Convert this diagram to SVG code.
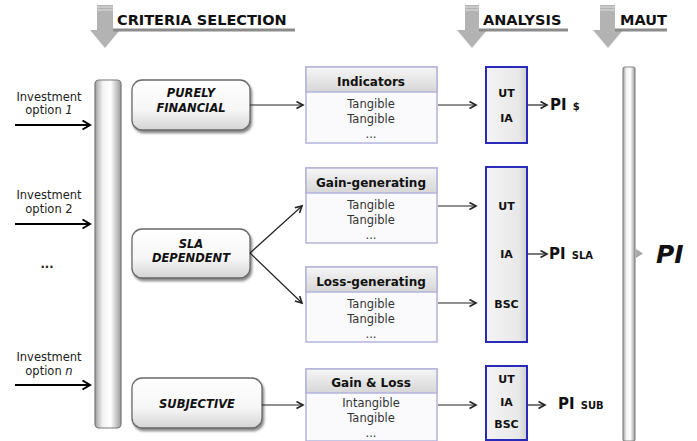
<svg xmlns="http://www.w3.org/2000/svg" width="697" height="441" viewBox="0 0 697 441">
<defs>
<style>
text{font-family:"DejaVu Sans",Verdana,sans-serif;fill:#111}
.hdr{font-size:14.5px;font-weight:bold}
.inv{font-size:11.5px;fill:#222}
.cat{font-size:11.5px;font-weight:bold;font-style:italic}
.bh{font-size:12px;font-weight:bold}
.bt{font-size:11.5px;fill:#333}
.an{font-size:11px;font-weight:bold}
.pi{font-size:15px;font-weight:bold}
.sub{font-size:10px;font-weight:bold}
.conn line{stroke:#222;stroke-width:1.2;marker-end:url(#chev)}
.conn line.thick{stroke:#000;stroke-width:2;marker-end:url(#chevB)}
.rbox{fill:url(#gBox);stroke:#6a6a6a;stroke-width:1.3;filter:url(#sh)}
.ibox{fill:#fafafd;stroke:#b4b4dc;stroke-width:1.5}
.ihead{fill:url(#gHead);stroke:#b4b4dc;stroke-width:1.5}
.abox{fill:url(#gAn);stroke:#2a2ab8;stroke-width:2}
.hArrow{fill:#b3b3b3}
</style>
<linearGradient id="gBox" x1="0" y1="0" x2="0" y2="1">
<stop offset="0" stop-color="#ffffff"/><stop offset="0.6" stop-color="#f6f6f6"/><stop offset="1" stop-color="#d4d4d4"/>
</linearGradient>
<linearGradient id="gBar" x1="0" y1="0" x2="1" y2="0">
<stop offset="0" stop-color="#a0a0a0"/><stop offset="0.3" stop-color="#f4f4f4"/><stop offset="0.6" stop-color="#ffffff"/><stop offset="1" stop-color="#9a9a9a"/>
</linearGradient>
<linearGradient id="gHead" x1="0" y1="0" x2="0" y2="1">
<stop offset="0" stop-color="#f6f6f6"/><stop offset="1" stop-color="#d6d6d6"/>
</linearGradient>
<linearGradient id="gAn" x1="0" y1="0" x2="1" y2="0">
<stop offset="0" stop-color="#f4f4f4"/><stop offset="0.8" stop-color="#e8e8e8"/><stop offset="1" stop-color="#cfcfcf"/>
</linearGradient>
<filter id="sh" x="-10%" y="-10%" width="130%" height="140%">
<feDropShadow dx="1.5" dy="2.5" stdDeviation="1.2" flood-color="#555" flood-opacity="0.7"/>
</filter>
<marker id="chev" markerUnits="userSpaceOnUse" markerWidth="10" markerHeight="10" refX="7" refY="4" orient="auto">
<path d="M0.5,0.5 L7,4 L0.5,7.5" fill="none" stroke="#222" stroke-width="1.6"/>
</marker>
<marker id="chevB" markerUnits="userSpaceOnUse" markerWidth="12" markerHeight="12" refX="8" refY="5" orient="auto">
<path d="M0.5,0.5 L8,5 L0.5,9.5" fill="none" stroke="#000" stroke-width="2"/>
</marker>
</defs>
<rect width="697" height="441" fill="#ffffff"/>

<!-- Stage headers -->
<g id="hdr-criteria">
<rect x="97" y="5" width="16" height="26" class="hArrow"/>
<line x1="97" y1="7" x2="113" y2="7" stroke="#e0e0e0" stroke-width="1"/>
<line x1="97" y1="10" x2="113" y2="10" stroke="#e0e0e0" stroke-width="1"/>
<polygon points="90,30 120,30 105,48" class="hArrow"/>
<line x1="113" y1="30" x2="295" y2="30" stroke="#8c8c8c" stroke-width="3"/>
<text x="117" y="25" class="hdr">CRITERIA SELECTION</text>
</g>
<g id="hdr-analysis">
<rect x="465" y="5" width="14" height="26" class="hArrow"/>
<line x1="465" y1="7" x2="479" y2="7" stroke="#e0e0e0" stroke-width="1"/>
<line x1="465" y1="10" x2="479" y2="10" stroke="#e0e0e0" stroke-width="1"/>
<polygon points="457,30 487,30 472,48" class="hArrow"/>
<line x1="479" y1="30" x2="568" y2="30" stroke="#8c8c8c" stroke-width="3"/>
<text x="483" y="25" class="hdr">ANALYSIS</text>
</g>
<g id="hdr-maut">
<rect x="600" y="5" width="15" height="26" class="hArrow"/>
<line x1="600" y1="7" x2="615" y2="7" stroke="#e0e0e0" stroke-width="1"/>
<line x1="600" y1="10" x2="615" y2="10" stroke="#e0e0e0" stroke-width="1"/>
<polygon points="593,30 623,30 608,48" class="hArrow"/>
<line x1="615" y1="30" x2="667" y2="30" stroke="#8c8c8c" stroke-width="3"/>
<text x="620" y="25" class="hdr">MAUT</text>
</g>

<!-- Investment option labels -->
<g id="inv1">
<text x="49" y="101" class="inv" text-anchor="middle">Investment</text>
<text x="49" y="114" class="inv" text-anchor="middle">option <tspan font-style="italic">1</tspan></text>
</g>
<g id="inv2">
<text x="49" y="199" class="inv" text-anchor="middle">Investment</text>
<text x="49" y="213" class="inv" text-anchor="middle">option 2</text>
</g>
<g id="invdots">
<text x="47" y="268" class="inv" font-weight="bold" text-anchor="middle">...</text>
</g>
<g id="invn">
<text x="49" y="361" class="inv" text-anchor="middle">Investment</text>
<text x="49" y="375" class="inv" text-anchor="middle">option <tspan font-style="italic">n</tspan></text>
</g>

<!-- Left collector bar -->
<g id="leftbar">
<rect x="95" y="80" width="26" height="348" rx="4" fill="url(#gBar)" stroke="#777" stroke-width="1.2"/>
</g>

<!-- Category boxes -->
<g id="cat-financial">
<rect x="132" y="80" width="118" height="50" rx="10" class="rbox"/>
<text x="191" y="97" class="cat" text-anchor="middle">PURELY</text>
<text x="191" y="112" class="cat" text-anchor="middle">FINANCIAL</text>
</g>
<g id="cat-sla">
<rect x="132" y="229" width="118" height="49" rx="10" class="rbox"/>
<text x="191" y="248" class="cat" text-anchor="middle">SLA</text>
<text x="191" y="262" class="cat" text-anchor="middle">DEPENDENT</text>
</g>
<g id="cat-subjective">
<rect x="132" y="378" width="130" height="50" rx="10" class="rbox"/>
<text x="197" y="408" class="cat" text-anchor="middle">SUBJECTIVE</text>
</g>

<!-- Indicator boxes -->
<g id="ind-indicators">
<rect x="306" y="67" width="131" height="76" class="ibox"/>
<rect x="306" y="67" width="131" height="25" class="ihead"/>
<text x="371" y="86" class="bh" text-anchor="middle">Indicators</text>
<text x="371" y="108" class="bt" text-anchor="middle">Tangible</text>
<text x="371" y="123" class="bt" text-anchor="middle">Tangible</text>
<text x="371" y="138" class="bt" text-anchor="middle">...</text>
</g>
<g id="ind-gain">
<rect x="306" y="168" width="131" height="75" class="ibox"/>
<rect x="306" y="168" width="131" height="25" class="ihead"/>
<text x="371" y="187" class="bh" text-anchor="middle">Gain-generating</text>
<text x="371" y="209" class="bt" text-anchor="middle">Tangible</text>
<text x="371" y="224" class="bt" text-anchor="middle">Tangible</text>
<text x="371" y="239" class="bt" text-anchor="middle">...</text>
</g>
<g id="ind-loss">
<rect x="306" y="267" width="131" height="75" class="ibox"/>
<rect x="306" y="267" width="131" height="25" class="ihead"/>
<text x="371" y="286" class="bh" text-anchor="middle">Loss-generating</text>
<text x="371" y="308" class="bt" text-anchor="middle">Tangible</text>
<text x="371" y="323" class="bt" text-anchor="middle">Tangible</text>
<text x="371" y="338" class="bt" text-anchor="middle">...</text>
</g>
<g id="ind-gainloss">
<rect x="306" y="369" width="131" height="72" class="ibox"/>
<rect x="306" y="369" width="131" height="24" class="ihead"/>
<text x="371" y="387" class="bh" text-anchor="middle">Gain &amp; Loss</text>
<text x="371" y="407" class="bt" text-anchor="middle">Intangible</text>
<text x="371" y="422" class="bt" text-anchor="middle">Tangible</text>
<text x="371" y="437" class="bt" text-anchor="middle">...</text>
</g>

<!-- Analysis boxes -->
<g id="an-1">
<rect x="486" y="67" width="41" height="76" class="abox"/>
<text x="506.5" y="97" class="an" text-anchor="middle">UT</text>
<text x="506.5" y="122" class="an" text-anchor="middle">IA</text>
</g>
<g id="an-2">
<rect x="486" y="167" width="41" height="175" class="abox"/>
<text x="506.5" y="210" class="an" text-anchor="middle">UT</text>
<text x="506.5" y="258" class="an" text-anchor="middle">IA</text>
<text x="506.5" y="308" class="an" text-anchor="middle">BSC</text>
</g>
<g id="an-3">
<rect x="486" y="366" width="41" height="74" class="abox"/>
<text x="506.5" y="383" class="an" text-anchor="middle">UT</text>
<text x="506.5" y="406" class="an" text-anchor="middle">IA</text>
<text x="506.5" y="428" class="an" text-anchor="middle">BSC</text>
</g>

<!-- PI outputs -->
<g id="pi-fin">
<text x="550" y="110" class="pi">PI <tspan class="sub" dx="1">$</tspan></text>
</g>
<g id="pi-sla">
<text x="549" y="259" class="pi">PI <tspan class="sub" dx="1">SLA</tspan></text>
</g>
<g id="pi-sub">
<text x="558" y="409" class="pi">PI <tspan class="sub" dx="1">SUB</tspan></text>
</g>

<!-- MAUT bar -->
<g id="mautbar">
<rect x="623" y="67" width="12" height="374" rx="2" fill="url(#gBar)" stroke="#888" stroke-width="1.2"/>
<polygon points="636,249 643,253.5 636,258" fill="#a8a8a8"/>
</g>
<g id="pi-total">
<text x="656" y="263" font-size="25" font-weight="bold" font-style="italic">PI</text>
</g>

<!-- Connectors -->
<g id="connectors" class="conn">
<line class="thick" x1="15" y1="125" x2="90" y2="125"/>
<line class="thick" x1="15" y1="224" x2="90" y2="224"/>
<line class="thick" x1="15" y1="385" x2="90" y2="385"/>
<line x1="250" y1="105" x2="303" y2="105"/>
<line x1="250" y1="253" x2="302" y2="206"/>
<line x1="250" y1="253" x2="302" y2="303"/>
<line x1="262" y1="405" x2="303" y2="405"/>
<line x1="438" y1="105" x2="476" y2="105"/>
<line x1="438" y1="206" x2="476" y2="206"/>
<line x1="438" y1="303" x2="476" y2="303"/>
<line x1="438" y1="405" x2="476" y2="405"/>
<line x1="528" y1="105" x2="547" y2="105"/>
<line x1="528" y1="254" x2="547" y2="254"/>
<line x1="528" y1="405" x2="545" y2="405"/>
</g>
</svg>
